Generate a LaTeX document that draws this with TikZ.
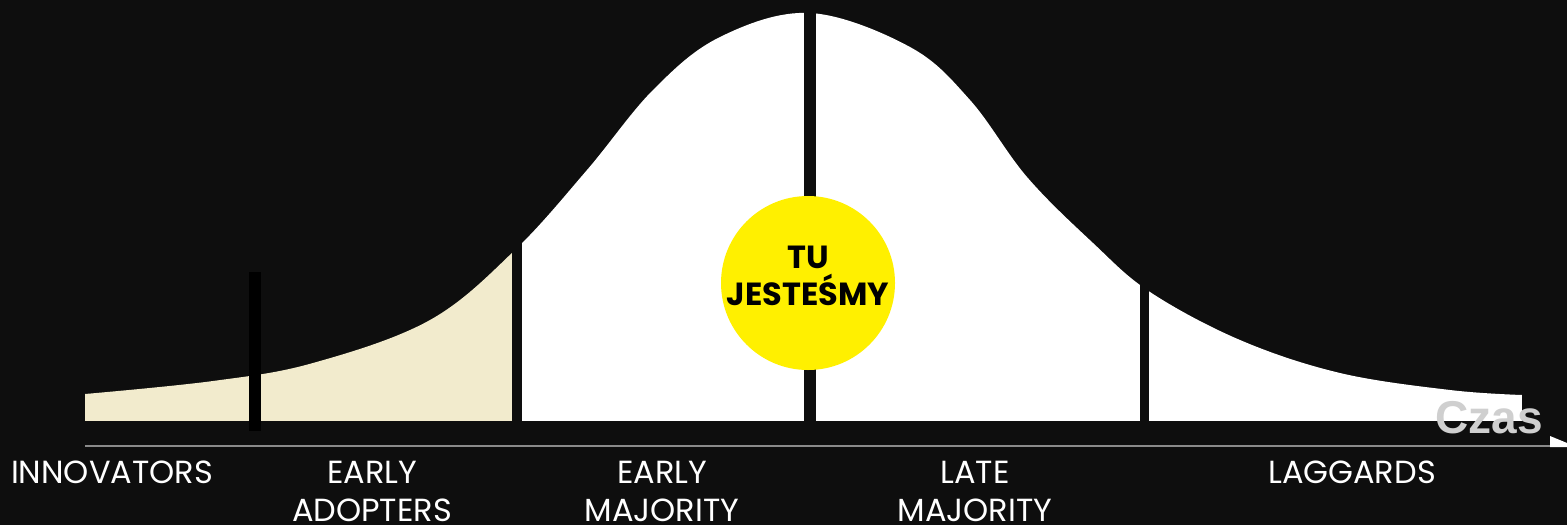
\documentclass[tikz,border=0pt]{standalone}
\usepackage{fontspec}
\setmainfont{Poppins}
\newfontfamily\czasfont{Liberation Sans}
\definecolor{bg}{HTML}{0E0E0E}
\definecolor{beige}{HTML}{F2EBCD}
\definecolor{yel}{HTML}{FFF000}
\definecolor{czasgrey}{HTML}{CFCFCF}
\definecolor{axisgrey}{HTML}{8A8A8A}
\tikzset{
  lbl/.style={text=white, font=\fontsize{16}{19}\selectfont, align=center, anchor=base, inner sep=0pt},
}
\begin{document}
\begin{tikzpicture}[x=0.5pt,y=-0.5pt]
\fill[bg] (0,0) rectangle (1567,525);
\useasboundingbox (0,0) rectangle (1567,525);
\clip (0,0) rectangle (1567,525);
\begin{scope}
\clip plot[smooth, tension=0.6] coordinates {(85,394) (213,381) (313,363) (430,320) (515,250) (587,170) (653,90) (720,37) (810,13) (910,47) (970,100) (1027,177) (1093,243) (1150,292) (1240,340) (1340,373) (1450,390) (1522,395)} -- (1522,421) -- (85,421) -- cycle;
\fill[beige] (85,0) rectangle (512,421);
\fill[white] (522,0) rectangle (804,421);
\fill[white] (816,0) rectangle (1140,421);
\fill[white] (1149,0) rectangle (1522,421);
\end{scope}
% black marker bar
\fill[black] (249,272) rectangle (261,431);
% axis
\draw[axisgrey, line width=1pt] (85,446) -- (1550,446);
\fill[white] (1550,436) -- (1567,443) -- (1567,447) -- (1550,447) -- cycle;
\node[text=czasgrey, font=\czasfont\bfseries\fontsize{23}{23}\selectfont, anchor=base west, inner sep=0pt] (czas) at (1435,433) {Czas};
% circle
\node[circle, fill=yel, minimum size=87pt, inner sep=0pt] (circ) at (808,283) {};
\node[font=\bfseries\fontsize{16}{18.5}\selectfont, align=center, text=black, inner sep=0pt, anchor=base] (tu) at (808,305) {TU\\JESTEŚMY};
% labels
\node[lbl] (innov) at (112,483) {INNOVATORS};
\node[lbl] (adopt) at (372,521) {EARLY\\ADOPTERS};
\node[lbl] (early) at (662,521) {EARLY\\MAJORITY};
\node[lbl] (late) at (975,521) {LATE\\MAJORITY};
\node[lbl] (lag) at (1352,483) {LAGGARDS};
\end{tikzpicture}
\end{document}
